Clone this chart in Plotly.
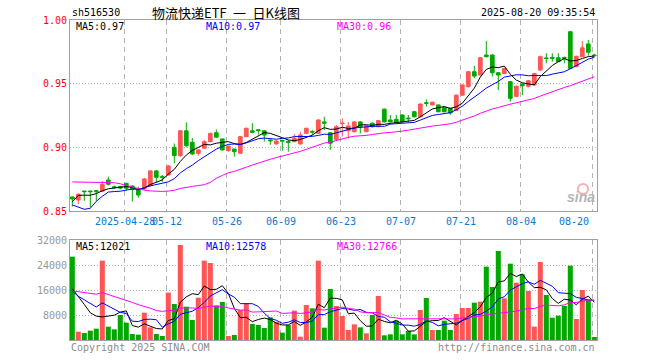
import plotly.graph_objects as go
import pandas as pd

# ---------------- data ----------------
dates = ["04-15","04-16","04-17","04-18","04-21","04-22","04-23","04-24","04-25",
         "04-28","04-29","04-30","05-06","05-07","05-08","05-09",
         "05-12","05-13","05-14","05-15","05-16","05-19","05-20","05-21","05-22","05-23",
         "05-26","05-27","05-28","05-29","05-30","06-03","06-04","06-05","06-06",
         "06-09","06-10","06-11","06-12","06-13","06-16","06-17","06-18","06-19","06-20",
         "06-23","06-24","06-25","06-26","06-27","06-30","07-01","07-02","07-03","07-04",
         "07-07","07-08","07-09","07-10","07-11","07-14","07-15","07-16","07-17","07-18",
         "07-21","07-22","07-23","07-24","07-25","07-28","07-29","07-30","07-31","08-01",
         "08-04","08-05","08-06","08-07","08-08","08-11","08-12","08-13","08-14","08-15",
         "08-18","08-19","08-20"]

opens = [0.8610,0.8587,0.8657,0.8657,0.8660,0.8655,0.8744,0.8690,0.8693,0.8718,
         0.8697,0.8666,0.8673,0.8700,0.8815,0.8770,0.8783,0.9000,0.8935,0.9130,
         0.9040,0.8953,0.8993,0.9045,0.9115,0.9066,0.8974,0.8987,0.8954,0.9084,
         0.9130,0.9138,0.9130,0.9058,0.9027,0.9055,0.9045,0.9045,0.9027,0.9110,
         0.9125,0.9110,0.9200,0.9115,0.9063,0.9186,0.9130,0.9123,0.9200,0.9123,
         0.9190,0.9162,0.9300,0.9215,0.9220,0.9254,0.9230,0.9280,0.9240,0.9350,
         0.9333,0.9333,0.9315,0.9307,0.9290,0.9410,0.9476,0.9594,0.9568,0.9725,
         0.9725,0.9586,0.9580,0.9516,0.9400,0.9498,0.9480,0.9490,0.9607,0.9702,
         0.9706,0.9704,0.9706,0.9908,0.9633,0.9712,0.9812,0.9725]
highs = [0.8615,0.8640,0.8660,0.8660,0.8665,0.8736,0.8770,0.8700,0.8697,0.8720,
         0.8700,0.8690,0.8760,0.8820,0.8820,0.8783,0.8862,0.9030,0.9135,0.9197,
         0.9074,0.8985,0.9058,0.9115,0.9140,0.9070,0.9015,0.8990,0.9090,0.9155,
         0.9190,0.9140,0.9135,0.9060,0.9055,0.9060,0.9058,0.9105,0.9123,0.9155,
         0.9135,0.9220,0.9240,0.9120,0.9175,0.9228,0.9200,0.9205,0.9205,0.9175,
         0.9195,0.9215,0.9305,0.9254,0.9254,0.9260,0.9254,0.9285,0.9345,0.9377,
         0.9360,0.9338,0.9318,0.9310,0.9415,0.9495,0.9600,0.9639,0.9710,0.9835,
         0.9730,0.9590,0.9625,0.9520,0.9485,0.9500,0.9530,0.9585,0.9720,0.9739,
         0.9739,0.9739,0.9712,0.9915,0.9720,0.9835,0.9843,0.9735]
lows = [0.8535,0.8555,0.8580,0.8530,0.8580,0.8650,0.8700,0.8675,0.8670,0.8660,
        0.8574,0.8605,0.8665,0.8690,0.8720,0.8730,0.8780,0.8875,0.8925,0.9000,
        0.8940,0.8935,0.8990,0.9040,0.9075,0.8975,0.8965,0.8927,0.8950,0.9080,
        0.9110,0.9100,0.9045,0.9020,0.9020,0.8974,0.8966,0.9040,0.9020,0.9105,
        0.9097,0.9105,0.9136,0.8980,0.9055,0.9084,0.9071,0.9115,0.9110,0.9120,
        0.9155,0.9160,0.9195,0.9195,0.9190,0.9195,0.9200,0.9235,0.9235,0.9320,
        0.9330,0.9275,0.9275,0.9255,0.9285,0.9405,0.9470,0.9542,0.9565,0.9705,
        0.9555,0.9450,0.9575,0.9359,0.9395,0.9410,0.9470,0.9485,0.9600,0.9660,
        0.9673,0.9670,0.9660,0.9615,0.9630,0.9710,0.9720,0.9712]
closes = [0.8595,0.8632,0.8652,0.8652,0.8652,0.8709,0.8710,0.8685,0.8680,0.8679,
          0.8670,0.8626,0.8752,0.8815,0.8765,0.8765,0.8854,0.8935,0.9130,0.9013,
          0.8948,0.8980,0.9045,0.9110,0.9080,0.8980,0.9010,0.8966,0.9084,0.9150,
          0.9118,0.9132,0.9097,0.9052,0.9050,0.9050,0.9040,0.9071,0.9097,0.9150,
          0.9120,0.9215,0.9190,0.9032,0.9162,0.9190,0.9168,0.9200,0.9162,0.9170,
          0.9162,0.9210,0.9200,0.9200,0.9194,0.9200,0.9225,0.9240,0.9340,0.9346,
          0.9354,0.9280,0.9280,0.9270,0.9410,0.9490,0.9594,0.9560,0.9704,0.9712,
          0.9586,0.9568,0.9620,0.9385,0.9480,0.9484,0.9523,0.9580,0.9712,0.9698,
          0.9700,0.9673,0.9700,0.9620,0.9715,0.9782,0.9747,0.9720]
volumes = [26667,2667,2240,2987,3627,25387,4267,3413,8000,5547,
           1920,1707,8747,4053,1920,1280,15147,11520,30400,10667,
           6400,13547,25387,24640,11093,12160,1280,1600,9600,11733,
           5120,4800,3840,7253,5867,2347,4800,9387,1067,11200,
           10133,25387,3947,16320,10880,7680,3200,5013,4053,2133,
           8000,14080,1493,1813,6187,1813,2880,1813,9600,13440,
           3200,3200,6187,3200,8320,10240,10240,11947,12267,23467,
           16960,28480,13333,24427,18347,21013,15680,4267,24960,14400,
           7147,7787,10880,23787,6720,16000,12800,960]

# estimated sessions before the visible window (only used to warm up the moving averages)
pre_closes = [0.866,0.870,0.868,0.872,0.866,0.869,0.875,
              0.895,0.905,0.910,0.906,0.902,0.898,
              0.885,0.880,0.878,0.874,0.870,0.872,0.876,
              0.878,0.8845,0.8575,0.810,0.832,0.838,0.864,0.8655,0.859]
pre_volumes = [9000,12000,10500,11500,10000,
               22000,26000,24000,21000,25000,23000,24500,22500,24400,
               9000,8000,8500,7800,8800,8300,
               18000,14000,13600,16000,12000,
               14400,15600,16300,9000]

tick_dates = ["04-28","05-12","05-26","06-09","06-23","07-07","07-21","08-04","08-20"]
tick_labels = ["2025-04-28","05-12","05-26","06-09","06-23","07-07","07-21","08-04","08-20"]
price_ticks = [0.85, 0.90, 0.95, 1.00]
vol_ticks = [8000, 16000, 24000, 32000]

code = "sh516530"
title = "物流快递ETF\u2002一\u2002日K线图"
stamp = "2025-08-20 09:35:54"
price_ma_labels = ["MA5:0.97", "MA10:0.97", "MA30:0.96"]
vol_ma_labels = ["MA5:12021", "MA10:12578", "MA30:12766"]

# ---------------- derived ----------------
n = len(closes)
idx = list(range(n))
allc = pd.Series(pre_closes + closes)
allv = pd.Series(pre_volumes + volumes)
ma = {k: allc.rolling(k).mean().tolist()[-n:] for k in (5, 10, 30)}
vma = {k: allv.rolling(k).mean().tolist()[-n:] for k in (5, 10, 30)}

RED = "#ff5555"
GREEN = "#00a800"
ma_colors = {5: "#000000", 10: "#0000ff", 30: "#ff00ff"}
vcolors = [RED if c > o else GREEN for o, c in zip(opens, closes)]

MONO = "DejaVu Sans Mono"
xr = [-0.383, 87.45]
grid_x = [dates.index(d) - 0.3 for d in tick_dates]

fig = go.Figure()
fig.add_trace(go.Candlestick(
    x=idx, open=opens, high=highs, low=lows, close=closes,
    increasing=dict(line=dict(color=RED, width=1), fillcolor=RED),
    decreasing=dict(line=dict(color=GREEN, width=1), fillcolor=GREEN),
    whiskerwidth=0, xaxis="x", yaxis="y", hoverinfo="skip"))
for k in (5, 10, 30):
    fig.add_trace(go.Scatter(x=idx, y=ma[k], mode="lines",
                             line=dict(color=ma_colors[k], width=1),
                             xaxis="x", yaxis="y", hoverinfo="skip"))
fig.add_trace(go.Bar(x=idx, y=volumes, marker=dict(color=vcolors, line=dict(width=0)),
                     width=0.84, xaxis="x2", yaxis="y2", hoverinfo="skip"))
for k in (5, 10, 30):
    fig.add_trace(go.Scatter(x=idx, y=vma[k], mode="lines",
                             line=dict(color=ma_colors[k], width=1),
                             xaxis="x2", yaxis="y2", hoverinfo="skip"))

axis_common = dict(showline=True, mirror=True, linecolor="#a0a0a0", linewidth=1,
                   zeroline=False, ticks="")
fig.update_layout(
    width=660, height=360,
    margin=dict(l=70, r=63, t=20, b=20),
    paper_bgcolor="white", plot_bgcolor="white",
    showlegend=False, boxgap=0.12, hovermode=False,
    xaxis=dict(domain=[0, 1], range=xr, anchor="y", tickvals=grid_x, showticklabels=False,
               showgrid=True, gridcolor="#b4b4b4", griddash="5px,4px", gridwidth=1,
               rangeslider=dict(visible=False), **axis_common),
    yaxis=dict(domain=[0.403, 1], range=[0.85, 1.00], tickvals=price_ticks,
               ticktext=[f"{v:.2f}" for v in price_ticks],
               tickfont=dict(family=MONO, size=10, color="#ff0000"),
               showgrid=True, gridcolor="#b4b4b4", griddash="1px,2px", **axis_common),
    xaxis2=dict(domain=[0, 1], range=xr, anchor="y2", tickvals=grid_x, showticklabels=False,
                showgrid=True, gridcolor="#b4b4b4", griddash="5px,4px", gridwidth=1,
                **axis_common),
    yaxis2=dict(domain=[0, 0.3125], range=[0, 32000], tickvals=vol_ticks,
                ticktext=[str(v) for v in vol_ticks],
                tickfont=dict(family=MONO, size=10, color="#999999"),
                showgrid=True, gridcolor="#b4b4b4", griddash="1px,2px", **axis_common),
)

def px_x(px):
    return (px - 70) / 527.0

def px_y(py):
    return (340 - py) / 320.0

ann = []
def add_text(text, x, y, color="#000000", size=10, family=MONO, xanchor="left", **kw):
    ann.append(dict(text=text, x=x, y=y, xref="paper", yref="paper", showarrow=False,
                    xanchor=xanchor, yanchor="middle",
                    font=dict(family=family, size=size, color=color), **kw))

add_text(code, px_x(70), px_y(12), "#000000", 10, xanchor="left")
add_text(title, px_x(150), px_y(12), "#000000", 13, family="Noto Sans CJK SC", xanchor="left")
add_text(stamp, px_x(597), px_y(12), "#000000", 10, xanchor="right")

ma_x = [74, 204, 335]
for lab, xx, k in zip(price_ma_labels, ma_x, (5, 10, 30)):
    add_text(lab, px_x(xx), px_y(27), ma_colors[k], 10)
for lab, xx, k in zip(vol_ma_labels, ma_x, (5, 10, 30)):
    add_text(lab, px_x(xx), px_y(246), ma_colors[k], 10)

# date labels under the price panel
for d, lab in zip(tick_dates, tick_labels):
    gx = dates.index(d) - 0.3
    last = d == tick_dates[-1]
    ann.append(dict(text=lab, x=gx, y=px_y(221), xref="x", yref="paper", showarrow=False,
                    xanchor="right" if last else "center", yanchor="middle",
                    xshift=-2 if last else 0,
                    font=dict(family=MONO, size=10, color="#0a78d2")))

add_text("Copyright 2025 SINA.COM", px_x(69), px_y(347), "#8c8c8c", 10)
add_text("http://finance.sina.com.cn", px_x(597), px_y(347), "#8c8c8c", 10, xanchor="right")

# sina watermark
add_text("<b><i>sina</i></b>", px_x(581), px_y(197), "#b4b4b4", 14, family="Arial", xanchor="center")
fig.add_shape(type="circle", xref="paper", yref="paper",
              x0=px_x(578), x1=px_x(588), y0=px_y(194), y1=px_y(184),
              line=dict(color="rgba(235,110,110,0.55)", width=2), fillcolor="rgba(0,0,0,0)")

fig.update_layout(annotations=ann)
fig.write_html("out.html", config={"displayModeBar": False, "staticPlot": True},
               post_script="document.body.style.margin='0';document.body.style.overflow='hidden';")
